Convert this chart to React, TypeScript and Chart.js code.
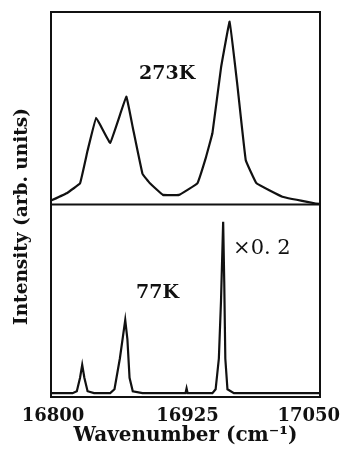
import React, { useEffect, useRef } from "react";
import { Chart, registerables } from "chart.js";

Chart.register(...registerables);

// 273K spectrum (top panel), relative intensity
const wn273 = [16800, 16815, 16827, 16834, 16842, 16855, 16870, 16876, 16885, 16892, 16904, 16919, 16936, 16944, 16950, 16958, 16966, 16973, 16981, 16991, 17015, 17046, 17050];
const int273 = [0.02, 0.06, 0.11, 0.28, 0.45, 0.32, 0.56, 0.40, 0.16, 0.11, 0.05, 0.05, 0.11, 0.245, 0.37, 0.71, 0.95, 0.63, 0.23, 0.11, 0.04, 0.005, 0.003];

// 77K spectrum (bottom panel), relative intensity
const wn77 = [16800, 16820, 16824, 16827, 16829, 16831, 16834, 16840, 16855, 16859, 16864, 16867, 16869, 16871, 16873, 16876, 16885, 16925, 16926, 16927, 16950, 16953, 16956, 16958, 16960, 16961, 16962, 16964, 16970, 17050];
const int77 = [0.02, 0.02, 0.03, 0.1, 0.167, 0.1, 0.03, 0.02, 0.02, 0.04, 0.2, 0.32, 0.40, 0.3, 0.1, 0.03, 0.02, 0.02, 0.045, 0.02, 0.02, 0.04, 0.2, 0.5, 0.91, 0.6, 0.2, 0.04, 0.02, 0.02];

const xTicks = [16800, 16925, 17050];

// annotations: text, panel, wavenumber, intensity
const noteText = ["273K", "77K", "×0. 2"];
const notePanel = ["yTop", "yBot", "yBot"];
const noteX = [16908, 16899, 16996];
const noteY = [0.68, 0.54, 0.77];
const noteBold = [true, true, false];

const SERIF = "'DejaVu Serif', 'Liberation Serif', serif";

export default function App() {
  const ref = useRef<HTMLCanvasElement | null>(null);
  useEffect(() => {
    document.body.style.margin = "0";
    const canvas = ref.current;
    if (!canvas) return;

    const framePlugin = {
      id: "frame",
      afterDatasetsDraw(chart: any) {
        const { ctx, chartArea } = chart;
        const top = chart.scales.yTop;
        const xs = chart.scales.x;
        ctx.save();
        ctx.strokeStyle = "#111";
        ctx.lineWidth = 2;
        ctx.strokeRect(chartArea.left, chartArea.top, chartArea.right - chartArea.left, chartArea.bottom - chartArea.top);
        ctx.beginPath();
        ctx.moveTo(chartArea.left, top.bottom);
        ctx.lineTo(chartArea.right, top.bottom);
        ctx.stroke();
        ctx.fillStyle = "#111";
        ctx.textBaseline = "middle";
        // x tick labels
        ctx.font = "bold 18px " + SERIF;
        ctx.textAlign = "center";
        for (const v of xTicks) {
          const w = ctx.measureText(String(v)).width;
          let cx = xs.getPixelForValue(v) + 2;
          const maxRight = chart.width - 4;
          if (cx + w / 2 > maxRight) cx = maxRight - w / 2;
          ctx.fillText(String(v), cx, chartArea.bottom + 19);
        }
        // annotations
        for (let i = 0; i < noteText.length; i++) {
          const ys = chart.scales[notePanel[i]];
          ctx.font = noteBold[i] ? "bold 19px " + SERIF : "21px " + SERIF;
          ctx.fillText(noteText[i], xs.getPixelForValue(noteX[i]), ys.getPixelForValue(noteY[i]));
        }
        // shared y title
        ctx.save();
        ctx.translate(22, (chartArea.top + chartArea.bottom) / 2 + 12);
        ctx.rotate(-Math.PI / 2);
        ctx.font = "bold 18.5px " + SERIF;
        ctx.fillText("Intensity (arb. units)", 0, 0);
        ctx.restore();
        ctx.restore();
      },
    };

    const chart = new Chart(canvas, {
      type: "line",
      data: {
        datasets: [
          {
            data: wn273.map((x, i) => ({ x, y: int273[i] })),
            yAxisID: "yTop",
            borderColor: "#111",
            borderWidth: 2.2,
            pointRadius: 0,
            tension: 0.06,
          },
          {
            data: wn77.map((x, i) => ({ x, y: int77[i] })),
            yAxisID: "yBot",
            borderColor: "#111",
            borderWidth: 2.2,
            pointRadius: 0,
            tension: 0,
          },
        ],
      },
      options: {
        animation: false,
        responsive: false,
        layout: { padding: { left: 51, right: 24, top: 12, bottom: 0 } },
        plugins: { legend: { display: false }, tooltip: { enabled: false } },
        scales: {
          x: {
            type: "linear",
            min: 16800,
            max: 17050,
            grid: { display: false, drawTicks: false },
            border: { display: false },
            ticks: { display: false },
            title: {
              display: true,
              text: "Wavenumber (cm⁻¹)",
              color: "#111",
              font: { family: SERIF, size: 20, weight: "bold", lineHeight: 1.2 },
              padding: { top: 27, bottom: 2 },
            },
          },
          yBot: {
            type: "linear",
            position: "left",
            stack: "panels",
            stackWeight: 1,
            min: 0,
            max: 1,
            grid: { display: false, drawTicks: false },
            border: { display: false },
            ticks: { display: false },
          },
          yTop: {
            type: "linear",
            position: "left",
            stack: "panels",
            stackWeight: 1,
            min: 0,
            max: 1,
            grid: { display: false, drawTicks: false },
            border: { display: false },
            ticks: { display: false },
          },
        },
      },
      plugins: [framePlugin],
    } as any);
    return () => chart.destroy();
  }, []);
  return (
    <div style={{ width: 344, height: 450 }}>
      <canvas ref={ref} width={344} height={450} style={{ display: "block" }} />
    </div>
  );
}
